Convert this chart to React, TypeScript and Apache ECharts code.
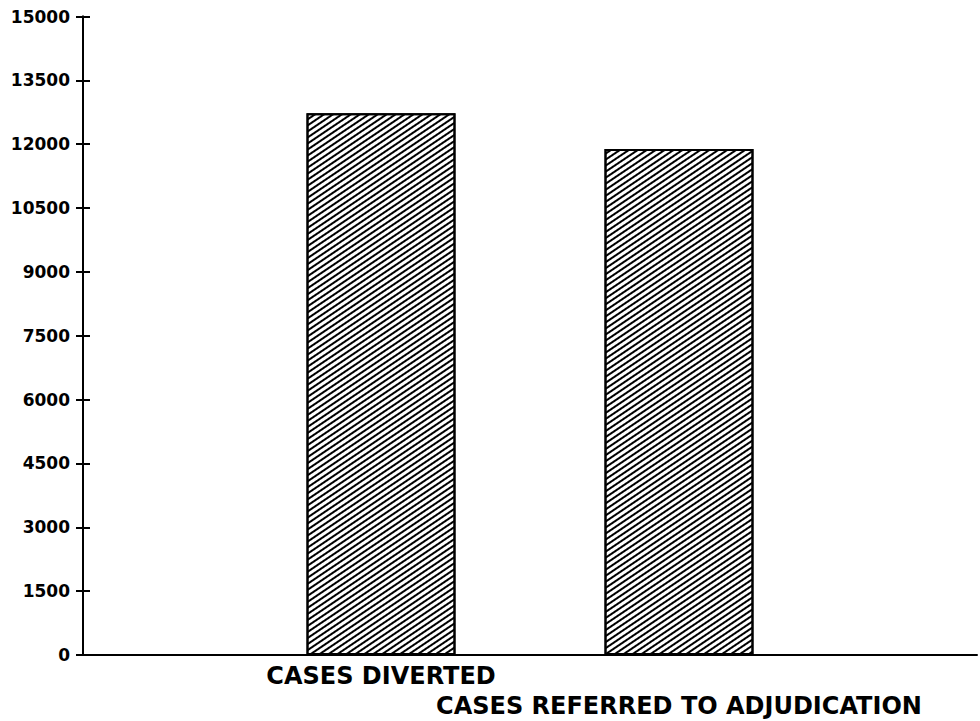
import React, { useEffect, useRef } from "react";
import * as echarts from "echarts";

const categories = ["", "CASES DIVERTED", "CASES REFERRED TO ADJUDICATION", ""];
const caseCounts = [null, 12730, 11890, null];
const yMin = 0;
const yMax = 15000;
const yInterval = 1500;

export default function App() {
  const ref = useRef<HTMLDivElement>(null);
  useEffect(() => {
    document.body.style.margin = "0";
    const chart = echarts.init(ref.current!, null, { renderer: "svg" });
    const font = "'DejaVu Sans', Arial, sans-serif";
    const gridBox = { left: 83, right: 0, top: 16.5, bottom: 66, containLabel: false };
    chart.setOption({
      animation: false,
      backgroundColor: "#ffffff",
      grid: [gridBox, gridBox],
      xAxis: [
        {
          type: "category",
          gridIndex: 0,
          data: categories,
          boundaryGap: false,
          axisLine: { show: true, lineStyle: { color: "#000", width: 2 } },
          axisTick: { show: false },
          splitLine: { show: false },
          axisLabel: {
            interval: 0,
            margin: 10,
            color: "#000",
            fontFamily: font,
            fontWeight: "bold",
            fontSize: 24,
            formatter: (v: string, i: number) =>
              v === "" ? "" : i === 2 ? `{s| }\n{a|${v}}` : `{a|${v}}`,
            rich: {
              a: { fontFamily: font, fontWeight: "bold", fontSize: 24, color: "#000", lineHeight: 22 },
              s: { fontFamily: font, fontSize: 10, lineHeight: 30 },
            },
          },
        },
        {
          type: "category",
          gridIndex: 1,
          data: categories,
          boundaryGap: false,
          show: false,
        },
      ],
      yAxis: [
        {
          type: "value",
          gridIndex: 0,
          min: yMin,
          max: yMax,
          interval: yInterval,
          position: "left",
          axisLine: { show: true, lineStyle: { color: "#000", width: 2 } },
          axisTick: { show: true, inside: false, length: 7, lineStyle: { color: "#000", width: 2 } },
          splitLine: { show: false },
          axisLabel: {
            margin: 13,
            color: "#000",
            fontFamily: font,
            fontWeight: "bold",
            fontSize: 17,
            formatter: (v: number) => String(v),
          },
        },
        {
          type: "value",
          gridIndex: 1,
          min: yMin,
          max: yMax,
          interval: yInterval,
          position: "left",
          axisLine: { show: true, onZero: false, lineStyle: { color: "#000", width: 2 } },
          axisTick: { show: true, inside: true, length: 7, lineStyle: { color: "#000", width: 2 } },
          splitLine: { show: false },
          axisLabel: { show: false },
        },
      ],
      series: [
        {
          type: "bar",
          xAxisIndex: 0,
          yAxisIndex: 0,
          data: caseCounts,
          barWidth: 149,
          itemStyle: {
            color: "#ffffff",
            borderColor: "#000",
            borderWidth: 2,
            decal: {
              symbol: "rect",
              symbolSize: 1,
              dashArrayX: [1, 0],
              dashArrayY: [2, 3],
              rotation: (-34 * Math.PI) / 180,
              color: "#000",
            },
          },
        },
        {
          type: "line",
          xAxisIndex: 1,
          yAxisIndex: 1,
          data: [],
          silent: true,
        },
      ],
    });
    return () => chart.dispose();
  }, []);
  return (
    <div
      ref={ref}
      style={{ position: "fixed", left: 0, top: 0, width: 980, height: 721 }}
    />
  );
}
